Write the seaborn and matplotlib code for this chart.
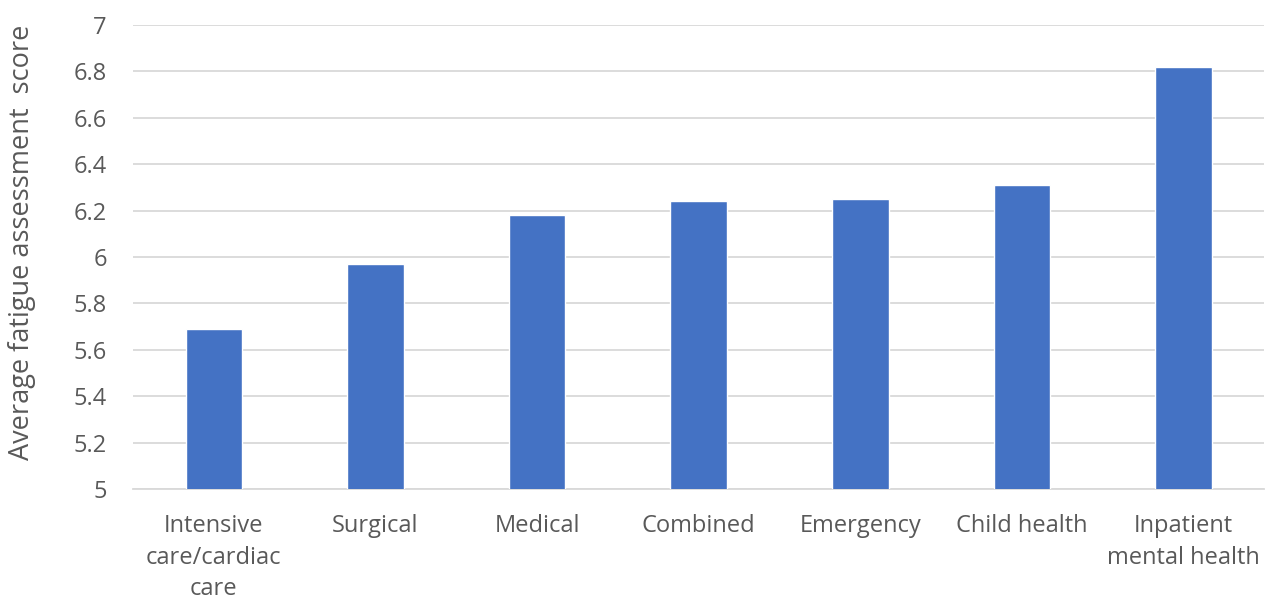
import matplotlib
matplotlib.use("Agg")
import matplotlib.pyplot as plt
import seaborn as sns
import pandas as pd

# values
categories = ["Intensive\ncare/cardiac\ncare", "Surgical", "Medical", "Combined",
              "Emergency", "Child health", "Inpatient\nmental health"]
scores = [5.69, 5.97, 6.18, 6.24, 6.25, 6.31, 6.82]
yticks = [5, 5.2, 5.4, 5.6, 5.8, 6, 6.2, 6.4, 6.6, 6.8, 7]
ytick_labels = ["5", "5.2", "5.4", "5.6", "5.8", "6", "6.2", "6.4", "6.6", "6.8", "7"]

df = pd.DataFrame({"ward": categories, "score": scores})

sns.set_style("white")
plt.rcParams["font.family"] = ["Open Sans", "DejaVu Sans"]

fig, ax = plt.subplots(figsize=(12.67, 6.03), dpi=100)
fig.subplots_adjust(left=0.105, right=0.998, top=0.9585, bottom=0.189)

sns.barplot(data=df, x="ward", y="score", color="#4472C4", width=0.35,
            saturation=1, ax=ax, zorder=3)

ax.set_ylim(5, 7)
ax.set_yticks(yticks)
ax.set_yticklabels(ytick_labels, fontsize=17, color="#595959")
ax.tick_params(axis="x", labelsize=17, length=0, pad=18)
ax.tick_params(axis="y", length=0, pad=19)
for lbl in ax.get_xticklabels():
    lbl.set_color("#595959")
    lbl.set_linespacing(1.42)
ax.set_xlabel("")
ax.set_ylabel("Average fatigue assessment  score", fontsize=19.5, color="#595959")
ax.yaxis.set_label_coords(-0.086, 0.532)
ax.grid(axis="y", color="#D9D9D9", linewidth=1.3, zorder=0)
for s in ["top", "right", "left"]:
    ax.spines[s].set_visible(False)
ax.spines["bottom"].set_color("#D9D9D9")
ax.spines["bottom"].set_linewidth(1.3)

plt.savefig("out.png", dpi=100)
